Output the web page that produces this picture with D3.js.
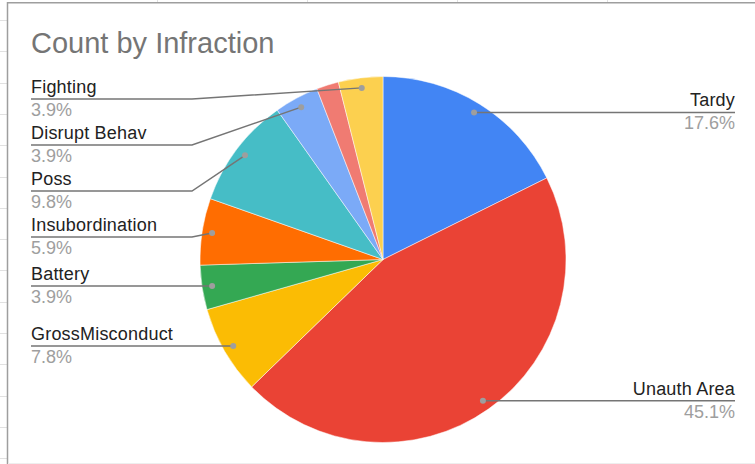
<!DOCTYPE html>
<html>
<head>
<meta charset="utf-8">
<script src="https://cdn.jsdelivr.net/npm/d3@7/dist/d3.min.js"></script>
<style>
  html, body { margin: 0; padding: 0; background: #fff; }
  svg { display: block; font-family: "Liberation Sans", Arial, sans-serif; }
</style>
</head>
<body>
<svg id="chart" width="755" height="464"></svg>
<script>
// Infraction counts, clockwise from 12 o'clock
const categories = ["Tardy", "Unauth Area", "GrossMisconduct", "Battery", "Insubordination",
                    "Poss", "Disrupt Behav", "Other", "Fighting"];
const counts     = [9, 23, 4, 2, 3, 5, 2, 1, 2];
const colors     = ["#4285F4", "#EA4335", "#FBBC04", "#34A853", "#FF6D01",
                    "#46BDC6", "#7BAAF7", "#F07B72", "#FCD04F"];
const title = "Count by Infraction";

const W = 755, H = 464;
const svg = d3.select("#chart");

// Spreadsheet grid behind the chart sheet
const grid = svg.append("g").attr("stroke", "#e1e1e1").attr("stroke-width", 1);
d3.range(20, H, 31.3).forEach(y =>
  grid.append("line").attr("x1", 0).attr("x2", 7).attr("y1", Math.round(y) + 0.5).attr("y2", Math.round(y) + 0.5));
d3.range(157, W, 150).forEach(x =>
  grid.append("line").attr("x1", x + 0.5).attr("x2", x + 0.5).attr("y1", 0).attr("y2", 2));

// Chart sheet frame
svg.append("rect").attr("x", 8).attr("y", 3).attr("width", W).attr("height", 460)
  .attr("fill", "#fff");
svg.append("line").attr("x1", 7.5).attr("x2", 7.5).attr("y1", 2).attr("y2", H)
  .attr("stroke", "#9e9e9e").attr("stroke-width", 1.5);
svg.append("line").attr("x1", 7).attr("x2", W).attr("y1", 2.75).attr("y2", 2.75)
  .attr("stroke", "#9e9e9e").attr("stroke-width", 1.5);
svg.append("line").attr("x1", 8).attr("x2", W).attr("y1", 463.5).attr("y2", 463.5)
  .attr("stroke", "#eeeeee").attr("stroke-width", 1);

// Title
svg.append("text").attr("x", 31).attr("y", 53)
  .attr("font-size", 29).attr("fill", "#757575").text(title);

// Pie
const cx = 383, cy = 259.5, R = 183;
const data = categories.map((c, i) => ({ name: c, value: counts[i], color: colors[i] }));
const total = d3.sum(counts);
const pie = d3.pie().value(d => d.value).sort(null);
const arcs = pie(data);
const arc = d3.arc().innerRadius(0).outerRadius(R);

const g = svg.append("g").attr("transform", `translate(${cx},${cy})`);
g.selectAll("path").data(arcs).join("path")
  .attr("d", arc)
  .attr("fill", d => d.data.color)
  .attr("stroke", "#fff").attr("stroke-width", 0.5);

// Labels: slices under 3% get no label
const pct = d => d.value / total;
const labelled = arcs.filter(a => pct(a.data) >= 0.03).map(a => {
  const mid = (a.startAngle + a.endAngle) / 2;
  const r = R * 0.945;
  return {
    a, mid,
    dx: cx + r * Math.sin(mid),
    dy: cy - r * Math.cos(mid),
    side: mid < Math.PI ? "right" : "left"
  };
});

// Left column stacked top-down with a fixed row pitch
const left = labelled.filter(l => l.side === "left").sort((p, q) => p.dy - q.dy);
let prev = 99 - 46;
left.forEach(l => { l.ly = Math.max(l.dy, prev + 46); prev = l.ly; });
const right = labelled.filter(l => l.side === "right").sort((p, q) => p.dy - q.dy);
prev = -Infinity;
right.forEach(l => { l.ly = Math.max(l.dy, prev + 46); prev = l.ly; });

const lab = svg.append("g");
const fmt = d3.format(".1%");
[...left, ...right].forEach(l => {
  const isLeft = l.side === "left";
  const xEnd = isLeft ? 31 : 735;
  const xElbow = isLeft ? 192 : 574;
  const pts = isLeft
    ? [[xEnd, l.ly], [Math.min(xElbow, l.dx), l.ly], [l.dx, l.dy]]
    : [[l.dx, l.dy], [Math.max(xElbow, l.dx), l.ly], [xEnd, l.ly]];
  lab.append("path")
    .attr("d", d3.line()(pts))
    .attr("fill", "none").attr("stroke", "#757575").attr("stroke-width", 1.5);
  lab.append("circle").attr("cx", l.dx).attr("cy", l.dy).attr("r", 3)
    .attr("fill", "#9e9e9e");
  const anchor = isLeft ? "start" : "end";
  lab.append("text").attr("x", xEnd).attr("y", l.ly - 6)
    .attr("text-anchor", anchor).attr("font-size", 18).attr("fill", "#222")
    .attr("letter-spacing", 0.2)
    .text(l.a.data.name);
  lab.append("text").attr("x", xEnd).attr("y", l.ly + 17)
    .attr("text-anchor", anchor).attr("font-size", 18).attr("fill", "#9e9e9e")
    .text(fmt(pct(l.a.data)));
});
</script>
</body>
</html>
